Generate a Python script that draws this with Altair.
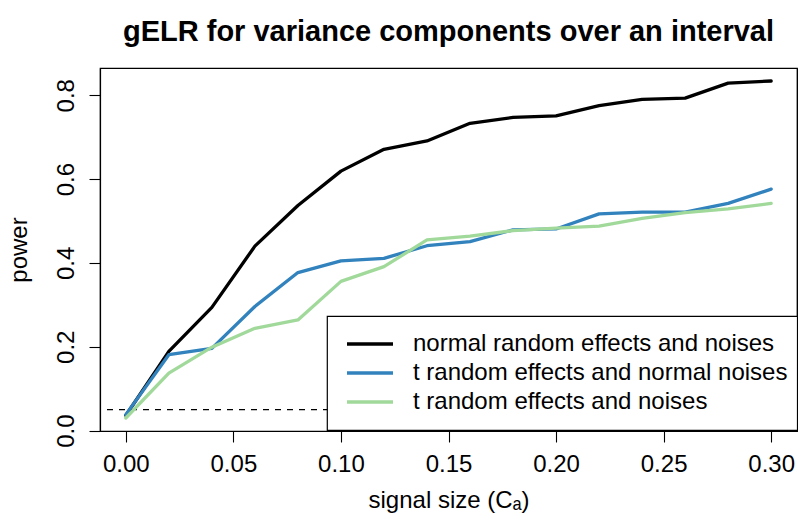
import altair as alt
import pandas as pd

# ---- data ----
signal = [0.00, 0.02, 0.04, 0.06, 0.08, 0.10, 0.12, 0.14,
          0.16, 0.18, 0.20, 0.22, 0.24, 0.26, 0.28, 0.30]
power_normal = [0.036, 0.189, 0.294, 0.440, 0.537, 0.619, 0.671, 0.691,
                0.733, 0.747, 0.751, 0.775, 0.790, 0.793, 0.829, 0.834]
power_t_normal = [0.038, 0.181, 0.196, 0.296, 0.377, 0.405, 0.411, 0.441,
                  0.451, 0.479, 0.481, 0.517, 0.521, 0.521, 0.542, 0.576]
power_t = [0.030, 0.137, 0.199, 0.244, 0.264, 0.356, 0.391, 0.455,
           0.464, 0.477, 0.483, 0.488, 0.506, 0.520, 0.529, 0.542]
series_names = ["normal random effects and noises",
                "t random effects and normal noises",
                "t random effects and noises"]
series_colors = ["#000000", "#3182bd", "#a1d99b"]
level = [0.05]
x_ticks = [0.00, 0.05, 0.10, 0.15, 0.20, 0.25, 0.30]
y_ticks = [0.0, 0.2, 0.4, 0.6, 0.8]

rows = []
for name, vals in zip(series_names, [power_normal, power_t_normal, power_t]):
    for s, p in zip(signal, vals):
        rows.append({"signal": s, "power": p, "series": name})
df = pd.DataFrame(rows)
df_level = pd.DataFrame({"level": level})

FONT = "Liberation Sans"
W, H = 697, 363

xscale = alt.Scale(domain=[-0.012, 0.312], nice=False, zero=False)
yscale = alt.Scale(domain=[-0.001, 0.865], nice=False, zero=False)

rule = alt.Chart(df_level).mark_rule(
    strokeDash=[6, 6], strokeWidth=1.1, color="black"
).encode(
    y=alt.Y("level:Q", scale=yscale,
            axis=alt.Axis(orient="right", labels=False, ticks=False,
                          domain=True, domainColor="black", domainWidth=1.2,
                          title=None, grid=False, zindex=1))
)

lines = alt.Chart(df).mark_line(
    strokeWidth=3.3, strokeCap="round", strokeJoin="round"
).encode(
    x=alt.X("signal:Q", scale=xscale,
            axis=alt.Axis(values=x_ticks, format=".2f",
                          title="signal size (Cₐ)",
                          tickSize=11, labelPadding=10,
                          labelFlush=False, labelOverlap=False,
                          titleY=76, titleBaseline="alphabetic",
                          titleAnchor="middle", grid=False,
                          domain=True, zindex=1)),
    y=alt.Y("power:Q", scale=yscale,
            axis=alt.Axis(values=y_ticks, format=".1f", title="power",
                          orient="left", grid=False,
                          tickSize=11, labelPadding=16,
                          labelAngle=270, labelAlign="center",
                          labelBaseline="alphabetic",
                          labelOverlap=False,
                          titleAngle=270, titleX=-74, titleY=H / 2,
                          titleAlign="center", titleBaseline="alphabetic",
                          domain=True, zindex=1)),
    color=alt.Color("series:N",
                    scale=alt.Scale(domain=series_names, range=series_colors),
                    legend=alt.Legend(
                        orient="none", legendX=227, legendY=248,
                        title=None, fillColor="white",
                        strokeColor="black",
                        padding=16, rowPadding=5,
                        symbolType="M-4,0H4", symbolSize=132.25,
                        symbolStrokeWidth=3.3, symbolOffset=15,
                        labelOffset=31, labelFontSize=24, labelFont=FONT,
                        labelColor="black", labelLimit=600)),
)

chart = alt.layer(rule, lines).resolve_axis(y="independent").properties(
    width=W, height=H,
    background="white",
    padding={"left": 100, "top": 68, "right": 1, "bottom": 87},
    autosize=alt.AutoSizeParams(type="none"),
    title=alt.TitleParams(
        "gELR for variance components over an interval",
        font=FONT, fontSize=29, fontWeight="bold", color="black",
        anchor="middle", baseline="alphabetic", offset=0, dy=2),
).configure_view(
    stroke="black", strokeWidth=1.2
).configure_axis(
    labelFont=FONT, titleFont=FONT, labelFontSize=24, titleFontSize=24,
    titleFontWeight="normal", labelColor="black", titleColor="black",
    tickColor="black", tickWidth=1.1, domainColor="black", domainWidth=1.2,
    grid=False
).configure_legend(
    strokeWidth=1.2
)

chart.save("out.html", embed_options={"renderer": "svg", "actions": False})
